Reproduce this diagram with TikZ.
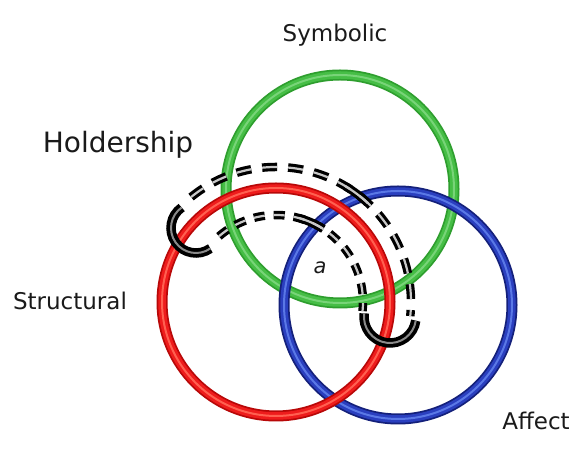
\documentclass[tikz,border=0pt]{standalone}
\usepackage{fontspec}
\setmainfont{DejaVu Sans}
\definecolor{rdark}{HTML}{B80808}
\definecolor{rmain}{HTML}{EE1C1C}
\definecolor{rlight}{HTML}{FF6050}
\definecolor{bdark}{HTML}{14207A}
\definecolor{bmain}{HTML}{2A3FBF}
\definecolor{blight}{HTML}{5A78E6}
\definecolor{gdark}{HTML}{2E9E2E}
\definecolor{gmain}{HTML}{46BE46}
\definecolor{glight}{HTML}{78D478}
\definecolor{txt}{HTML}{1A1A1A}
\definecolor{stripe}{HTML}{C8C8C8}
\definecolor{capgray}{HTML}{8A8A8A}
\begin{document}
\begin{tikzpicture}[x=1pt,y=1pt,
  lab/.style={text=txt,inner sep=0pt,anchor=base,font=\fontsize{23}{23}\selectfont},
  tubeblack/.style={draw=black,line width=8.5pt},
  tubestripe/.style={draw=stripe,line width=2.2pt},
  outerdash/.style={dash pattern=on 15pt off 11pt},
  innerdash/.style={dash pattern=on 11pt off 9pt},
  capblack/.style={draw=black,line width=9.5pt},
  capstripe/.style={draw=capgray,line width=2pt}]
\useasboundingbox (0,0) rectangle (573,454);
\fill[white] (0,0) rectangle (573,454);
\coordinate (G) at (340,265);
\coordinate (B) at (398,149);
\coordinate (R) at (276,152);
\newcommand{\myring}[4]{%
  \draw[line width=11pt,#2] (#1) circle[radius=114];
  \draw[line width=7.5pt,#3] (#1) circle[radius=114];
  \draw[line width=2pt,#4] (#1) circle[radius=114];}
% rings: green below, blue, red on top
\myring{G}{gdark}{gmain}{glight}
\myring{B}{bdark}{bmain}{blight}
\myring{R}{rdark}{rmain}{rlight}
% dashed tube (outer and inner walls)
\foreach \sty in {tubeblack,tubestripe}{
  \draw[\sty,outerdash] ([shift={(129:135)}]R) arc[start angle=129,end angle=-6,radius=135];
  \draw[\sty,innerdash] ([shift={(131:87)}]R) arc[start angle=131,end angle=-6,radius=87];
  \draw[\sty] ([shift={(59:135)}]R) arc[start angle=59,end angle=47,radius=135];
  \draw[\sty] ([shift={(74:87)}]R) arc[start angle=74,end angle=57,radius=87];
}
% end caps
\coordinate (LC) at (196,226);
\coordinate (RC) at (390,137);
\foreach \sty in {capblack,capstripe}{
  \draw[\sty] ([shift={(125:25)}]LC) arc[start angle=125,end angle=305,radius=25];
  \draw[\sty] ([shift={(172:26)}]RC) arc[start angle=172,end angle=352,radius=26];
}
% labels
\node[lab] (sym) at (335,412) {Symbolic};
\node[lab,font=\fontsize{28}{28}\selectfont] (hold) at (118,301) {Holdership};
\node[lab] (str) at (70,144) {Structural};
\node[lab] (aff) at (536,24) {Affect};
\node[lab,font=\fontsize{21}{21}\selectfont\itshape] (a) at (320,180) {a};
\end{tikzpicture}
\end{document}
